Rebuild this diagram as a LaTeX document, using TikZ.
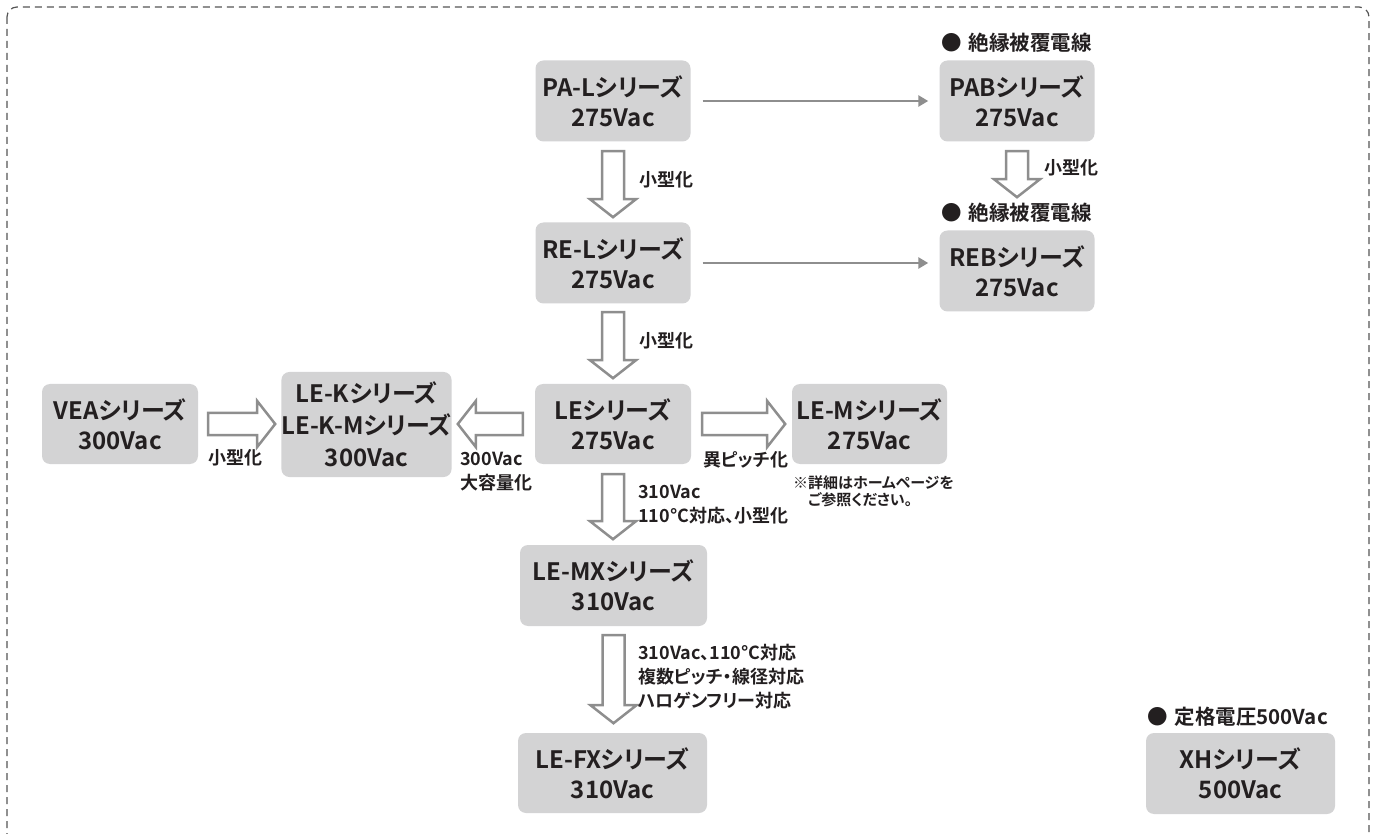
\documentclass[tikz,border=0pt]{standalone}
\usepackage{fontspec}
\setmainfont{Noto Sans CJK JP}[BoldFont={* Bold}, RawFeature=+palt]
\usetikzlibrary{calc,arrows.meta}
\definecolor{boxgray}{HTML}{D3D3D4}
\definecolor{linegray}{HTML}{8E8E8E}
\definecolor{ink}{HTML}{231F20}
\definecolor{framegray}{HTML}{555555}
\tikzset{
  series/.style={fill=boxgray, rounded corners=8pt, text=ink, inner sep=0pt, align=center,
    font=\bfseries\fontsize{24}{30}\selectfont, minimum width=155pt, minimum height=81pt},
  note/.style={text=ink, inner sep=0pt, anchor=west, align=left,
    font=\bfseries\fontsize{18}{24}\selectfont},
  small note/.style={note, font=\bfseries\fontsize{15}{17}\selectfont},
  heading/.style={text=ink, inner sep=0pt, anchor=west, font=\bfseries\fontsize{20.5}{24}\selectfont},
  thin arrow/.style={draw=linegray, line width=2.5pt, -{Triangle[length=10pt,width=11pt]}},
  hollowline/.style={draw=linegray, line width=2.5pt, fill=white},
  pics/hollow/.style={code={
    \draw[hollowline] (-11,0) -- (11,0) -- (11,#1-18) -- (23,#1-18) -- (0,#1) -- (-23,#1-18) -- (-11,#1-18) -- cycle;
  }},
}
\begin{document}
\begin{tikzpicture}[x=1pt,y=-1pt]
 \useasboundingbox (0,0) rectangle (1377,834);
 \clip (0,0) rectangle (1377,834);
 % frame
 \draw[framegray, line width=1.2pt, dash pattern=on 7pt off 5pt, rounded corners=10pt] (7,7) rectangle (1369,870);
 % series boxes
 \node[series] (pal) at (613,101) {PA-Lシリーズ\\275Vac};
 \node[series] (pab) at (1017,101) {PABシリーズ\\275Vac};
 \node[series] (rel) at (613,263) {RE-Lシリーズ\\275Vac};
 \node[series] (reb) at (1017,271) {REBシリーズ\\275Vac};
 \node[series, minimum width=156pt, minimum height=80pt] (vea) at (120,424) {VEAシリーズ\\300Vac};
 \node[series, minimum width=169pt, minimum height=105pt, font=\bfseries\fontsize{24}{32}\selectfont] (lek) at (366.5,424.5) {LE-Kシリーズ\\LE-K-Mシリーズ\\300Vac};
 \node[series, minimum width=156pt, minimum height=80pt] (le) at (613,424) {LEシリーズ\\275Vac};
 \node[series, minimum height=80pt] (lem) at (869.5,424) {LE-Mシリーズ\\275Vac};
 \node[series, minimum width=187pt] (lemx) at (613.5,585.5) {LE-MXシリーズ\\310Vac};
 \node[series, minimum width=189pt, minimum height=80pt] (lefx) at (612.5,773) {LE-FXシリーズ\\310Vac};
 \node[series, minimum width=189pt] (xh) at (1240.5,773.5) {XHシリーズ\\500Vac};
 % headings
 \node[heading] (h1) at (941,43) {●\hspace{7pt}絶縁被覆電線};
 \node[heading] (h2) at (941,213) {●\hspace{7pt}絶縁被覆電線};
 \node[heading] (h3) at (1147,717) {●\hspace{7pt}定格電圧500Vac};
 % thin arrows
 \draw[thin arrow] ($(pal.east)+(12,0)$) -- ($(pab.west)+(-11,0)$);
 \draw[thin arrow] ($(rel.east)+(12,0)$) -- ($(rel.east -| reb.west)+(-11,0)$);
 % hollow arrows
 \pic at ($(pal.south)+(0,9.5)$) {hollow=66};
 \pic at ($(pab.south)+(0,9.5)$) {hollow=46};
 \pic at ($(rel.south)+(0,8.5)$) {hollow=66};
 \pic[rotate=90] at ($(vea.east)+(10,0)$) {hollow=67};
 \pic[rotate=-90] at ($(le.west)+(-12,0)$) {hollow=65};
 \pic[rotate=90] at ($(le.east)+(11,0)$) {hollow=83};
 \pic at ($(le.south)+(0,10)$) {hollow=65};
 \pic at ($(lemx.south)+(0,9)$) {hollow=88};
 % labels
 \node[note] (l1) at (639,180) {小型化};
 \node[note] (l2) at (1044,168) {小型化};
 \node[note] (l3) at (639,341) {小型化};
 \node[note] (l4) at (208,458) {小型化};
 \node[note] (l5) at (460,472) {300Vac\\大容量化};
 \node[note] (l6) at (703,460) {異ピッチ化};
 \node[small note] (l7) at (793,491.5) {※詳細はホームページを\\\hspace{1em}ご参照ください。};
 \node[note] (l8) at (638,505) {310Vac\\110°C対応、小型化};
 \node[note] (l9) at (638,677) {310Vac、110°C対応\\複数ピッチ・線径対応\\ハロゲンフリー対応};
\end{tikzpicture}
\end{document}
